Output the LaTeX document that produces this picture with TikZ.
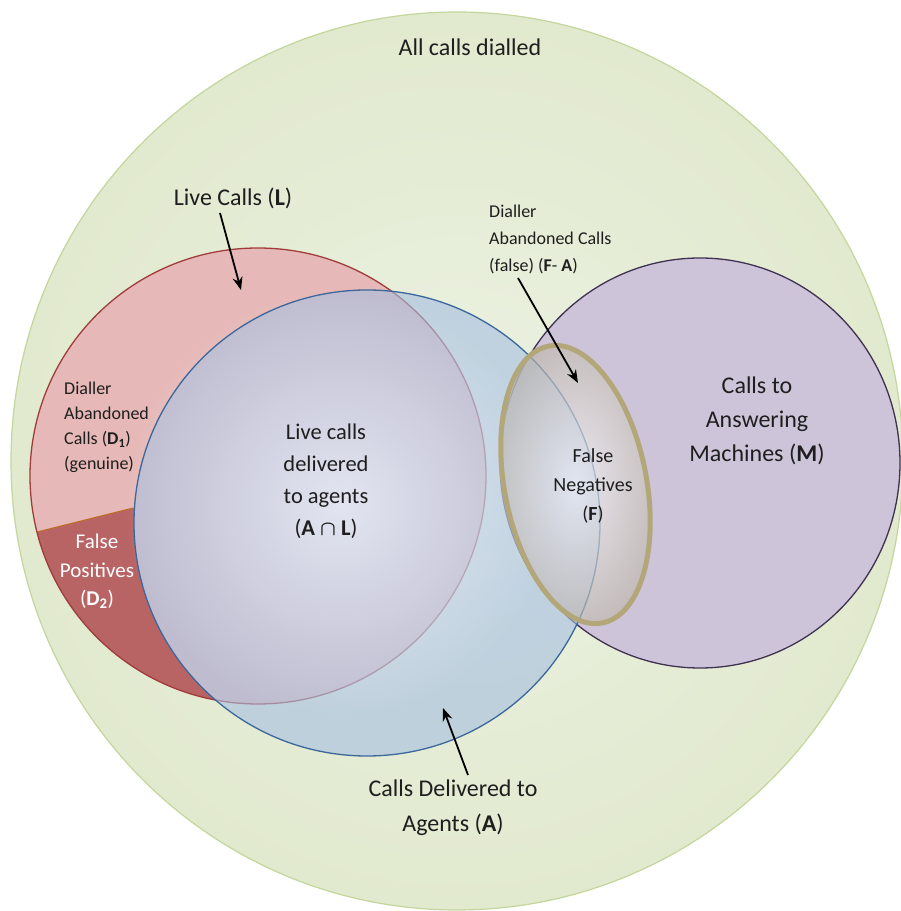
\documentclass[tikz,border=0pt]{standalone}
\usepackage{fontspec}
\setmainfont{Carlito}
\usetikzlibrary{arrows.meta,fadings}
\definecolor{greenfill}{RGB}{225,233,206}
\definecolor{greenin}{RGB}{236,242,227}
\definecolor{greenedge}{RGB}{195,214,155}
\definecolor{pinkfill}{RGB}{230,185,184}
\definecolor{rededge}{RGB}{160,60,58}
\definecolor{dtwo}{RGB}{185,100,100}
\definecolor{divline}{RGB}{190,110,40}
\definecolor{bluefill}{RGB}{165,190,225}
\definecolor{blueedge}{RGB}{59,103,154}
\definecolor{glowcol}{RGB}{232,237,247}
\definecolor{mfill}{RGB}{206,196,217}
\definecolor{medge}{RGB}{63,49,81}
\definecolor{fedge}{RGB}{179,167,122}
\definecolor{fouter}{RGB}{190,184,168}
\definecolor{txt}{RGB}{30,30,30}
\tikzfading[name=glowfade, inner color=transparent!15, outer color=transparent!100]
\begin{document}
\begin{tikzpicture}[x=1pt,y=1pt,
  lbl/.style={inner sep=0pt, text=txt, align=center},
  arr/.style={-{Stealth[length=13pt,width=10pt]}, line width=1.8pt, black}]
\useasboundingbox (0,0) rectangle (901,911);
\fill[white] (0,0) rectangle (901,911);
% outer set
\shade[inner color=greenin, outer color=greenfill] (457,450) ellipse [x radius=446, y radius=449];
\draw[greenedge, line width=1.2pt] (457,450) ellipse [x radius=446, y radius=449];
% M
\fill[mfill] (700,448) ellipse [x radius=200, y radius=205];
\draw[medge, line width=1.3pt] (700,448) ellipse [x radius=200, y radius=205];
% L
\fill[pinkfill] (258,435) circle (228);
\begin{scope}
  \clip (258,435) circle (228);
  \clip (-10,367.25) -- (300,444.75) -- (300,0) -- (-10,0) -- cycle;
  \fill[dtwo, even odd rule] (-10,0) rectangle (910,911) (367,388) circle (233);
\end{scope}
\draw[divline, line width=1pt] (37,379) -- (133,403);
\draw[rededge, line width=1.3pt] (258,435) circle (228);
% A
\fill[bluefill, fill opacity=0.6] (367,388) circle (233);
\fill[glowcol, path fading=glowfade] (340,406) circle (215);
\draw[blueedge, line width=1.3pt] (367,388) circle (233);
% F
\shade[rotate around={11:(575.5,426.5)}, inner color=white, outer color=fouter, fill opacity=0.6]
  (575.5,426.5) ellipse [x radius=71, y radius=141];
\draw[rotate around={11:(575.5,426.5)}, fedge, line width=5pt]
  (575.5,426.5) ellipse [x radius=71, y radius=141];
% labels
\node[lbl, font=\fontsize{24}{34}\selectfont] (all) at (470,864) {All calls dialled};
\node[lbl, font=\fontsize{24}{34}\selectfont] (live) at (233,713) {Live Calls (\textbf{L})};
\node[lbl, anchor=west, align=left, font=\fontsize{18}{27}\selectfont] (fa) at (489,671)
  {Dialler\\Abandoned Calls\\(false) (\textbf{F}- \textbf{A})};
\node[lbl, anchor=west, align=left, font=\fontsize{18}{25}\selectfont] (d1) at (64,483.5)
  {Dialler\\Abandoned\\Calls (\textbf{D\textsubscript{1}})\\(genuine)};
\node[lbl, text=white, font=\fontsize{21}{28.5}\selectfont] (d2) at (97,339.5)
  {False\\Positives\\(\textbf{D\textsubscript{2}})};
\node[lbl, font=\fontsize{22.5}{32}\selectfont] (al) at (326,429.5)
  {Live calls\\delivered\\to agents\\(\textbf{A} {\boldmath$\cap$} \textbf{L})};
\node[lbl, font=\fontsize{24}{34}\selectfont] (m) at (757,490)
  {Calls to\\Answering\\Machines (\textbf{M})};
\node[lbl, font=\fontsize{20}{29}\selectfont] (f) at (593,425)
  {False\\Negatives\\(\textbf{F})};
\node[lbl, font=\fontsize{24}{35}\selectfont] (ag) at (453,103.5)
  {Calls Delivered to\\Agents (\textbf{A})};
% arrows
\coordinate (liveS) at (220,698);
\coordinate (liveT) at (241,621);
\coordinate (faS) at (518,633);
\coordinate (faT) at (578,528);
\coordinate (agS) at (468,136);
\coordinate (agT) at (443,203);
\draw[arr] (liveS) -- (liveT);
\draw[arr] (faS) -- (faT);
\draw[arr] (agS) -- (agT);
\end{tikzpicture}
\end{document}
